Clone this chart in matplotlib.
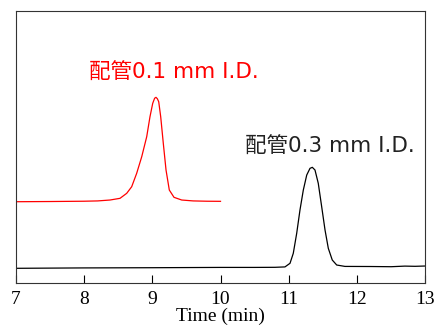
import matplotlib.pyplot as plt

# time (min) and detector signal (arbitrary units)
T_01 = [7.0, 7.5, 8.0, 8.2, 8.381, 8.528, 8.626, 8.699, 8.772, 8.846, 8.919, 8.967,
        9.007, 9.035, 9.055, 9.075, 9.095, 9.124, 9.162, 9.202, 9.250, 9.319, 9.432,
        9.6, 9.8, 10.0]
Y_01 = [81.0, 81.2, 81.5, 81.8, 82.7, 84.4, 89.4, 96.0, 109.4, 126.0, 146.0, 166.0,
        179.4, 184.5, 185.4, 184.0, 181.0, 166.0, 139.4, 112.7, 92.7, 85.4, 82.7,
        81.8, 81.5, 81.4]

T_03 = [7.0, 8.0, 9.0, 10.0, 10.5, 10.798, 10.944, 11.018, 11.066, 11.116, 11.164,
        11.213, 11.263, 11.311, 11.345, 11.384, 11.432, 11.482, 11.531, 11.579, 11.637,
        11.702, 11.823, 12.2, 12.5, 12.7, 12.85, 13.0]
Y_03 = [14.4, 14.8, 15.0, 15.3, 15.3, 15.4, 15.8, 19.4, 29.4, 49.4, 72.7,
        92.7, 107.7, 114.4, 115.4, 112.7, 99.4, 76.0, 52.7, 34.4, 22.7,
        17.7, 16.3, 16.2, 16.0, 16.6, 16.4, 16.7]

LABEL_01 = '配管0.1 mm I.D.'
LABEL_03 = '配管0.3 mm I.D.'

fig = plt.figure(figsize=(4.36, 3.36), dpi=100)
ax = fig.add_axes([0.036, 0.1586, 0.9395, 0.8094])

ax.plot(T_01, Y_01, color='#ff0000', linewidth=0.9)
ax.plot(T_03, Y_03, color='black', linewidth=0.9)

ax.text(9.31, 209.7, LABEL_01, color='#ff0000', fontsize=15.5, ha='center', va='center',
        family=['DejaVu Sans', 'Noto Sans CJK JP'])
ax.text(11.6, 136.0, LABEL_03, color='#222222', fontsize=15.5, ha='center', va='center',
        family=['DejaVu Sans', 'Noto Sans CJK JP'])

ax.set_xlim(7, 13)
ax.set_ylim(0, 272)
ax.set_xticks(range(7, 14))
ax.set_yticks([])
ax.tick_params(axis='x', direction='in', length=6, width=0.8, pad=6,
               labelsize=14, labelfontfamily='Liberation Serif')
ax.set_xlabel('Time (min)', fontsize=14, family='Liberation Serif', labelpad=0)
for s in ax.spines.values():
    s.set_linewidth(0.8)
    s.set_color('#333333')

fig.savefig('out.png', dpi=100)
